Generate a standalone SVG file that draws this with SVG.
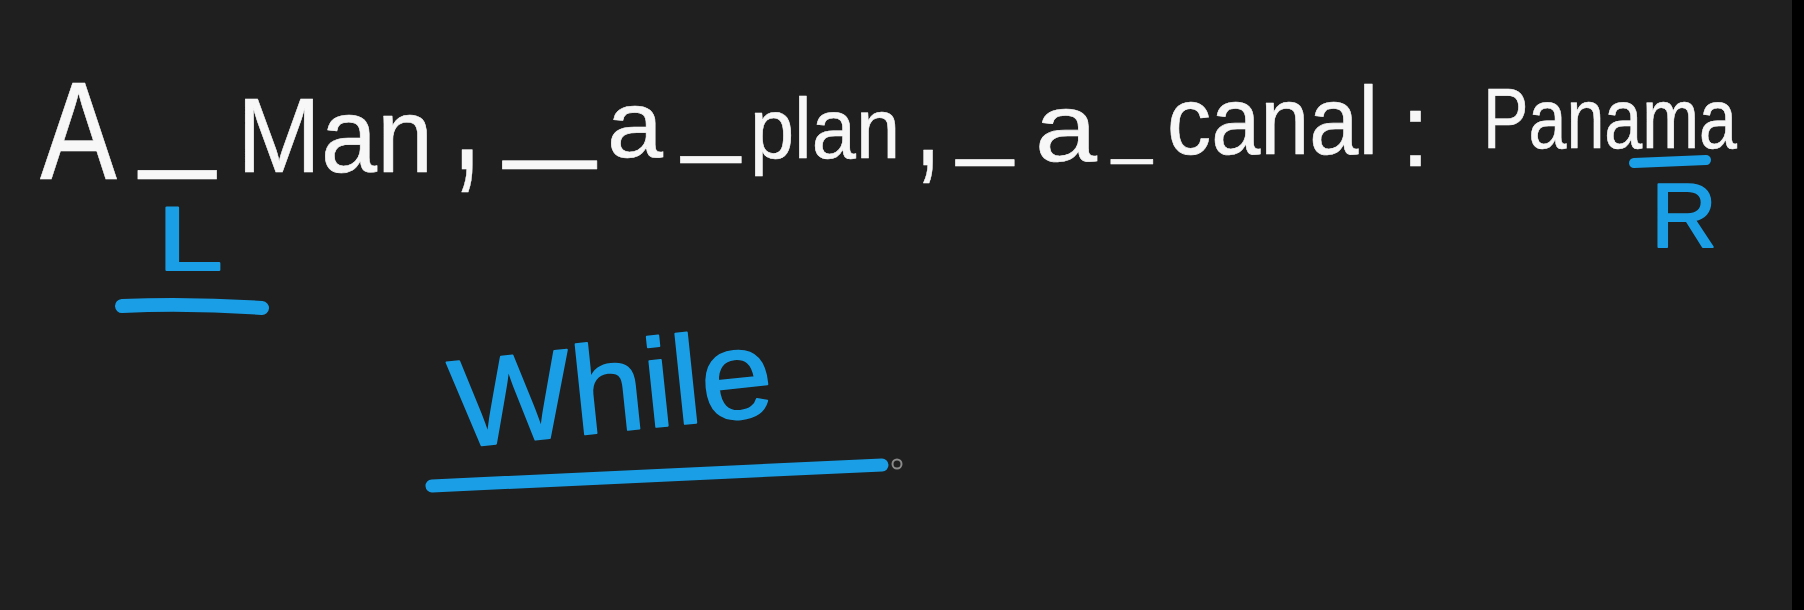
<svg xmlns="http://www.w3.org/2000/svg" width="1804" height="610" viewBox="0 0 1804 610">
<style>
.w{fill:#f7f7f7;stroke:#f7f7f7;stroke-width:0.6;stroke-linejoin:round;font-family:"Liberation Sans",Arial,sans-serif}
.b{fill:#1a9fe6;stroke:#1a9fe6;stroke-width:2;stroke-linejoin:round;font-family:"Liberation Sans",Arial,sans-serif}
.bl{fill:none;stroke:#1a9fe6;stroke-linecap:round;stroke-linejoin:round}
</style>
<rect x="0" y="0" width="1804" height="610" fill="#1f1f1f"/>
<rect x="1792" y="0" width="12" height="610" fill="#000"/>
<g id="sentence">
<text class="w" x="40" y="179" font-size="140" textLength="77" lengthAdjust="spacingAndGlyphs">A</text>
<text class="w" x="140" y="152" font-size="135" stroke-width="1.5" textLength="75" lengthAdjust="spacingAndGlyphs">_</text>
<text class="w" x="237" y="172" font-size="105" textLength="196" lengthAdjust="spacingAndGlyphs">Man</text>
<text class="w" x="452" y="169" font-size="180" textLength="30" lengthAdjust="spacingAndGlyphs">,</text>
<text class="w" x="505" y="143" font-size="130" stroke-width="1.5" textLength="90" lengthAdjust="spacingAndGlyphs">_</text>
<text class="w" x="607" y="157" font-size="95" textLength="56" lengthAdjust="spacingAndGlyphs">a</text>
<text class="w" x="682" y="142.3" font-size="104" stroke-width="3" textLength="58" lengthAdjust="spacingAndGlyphs">_</text>
<text class="w" x="750" y="158" font-size="86" stroke-width="1.2" textLength="150" lengthAdjust="spacingAndGlyphs">plan</text>
<text class="w" x="915" y="164.5" font-size="140" textLength="26" lengthAdjust="spacingAndGlyphs">,</text>
<text class="w" x="957" y="145.8" font-size="101" stroke-width="3" textLength="56" lengthAdjust="spacingAndGlyphs">_</text>
<text class="w" x="1035" y="161" font-size="96" textLength="62" lengthAdjust="spacingAndGlyphs">a</text>
<text class="w" x="1112" y="149.8" font-size="72" stroke-width="4.5" textLength="40" lengthAdjust="spacingAndGlyphs">_</text>
<text class="w" x="1167" y="154" font-size="97" textLength="211" lengthAdjust="spacingAndGlyphs">canal</text>
<text class="w" x="1401" y="166" font-size="104" stroke-width="4">:</text>
<text class="w" x="1483" y="148" font-size="85" stroke-width="1" textLength="254" lengthAdjust="spacingAndGlyphs">Panama</text>
</g>
<g id="pointer-L">
<text class="b" x="157" y="270" font-size="91" textLength="66" lengthAdjust="spacingAndGlyphs">L</text>
<path class="bl" stroke-width="14" d="M122 306 Q190 303 262 308"/>
</g>
<g id="pointer-R">
<path class="bl" stroke-width="10" d="M1634 163 L1706 160"/>
<text class="b" x="1651" y="247" font-size="90" textLength="66" lengthAdjust="spacingAndGlyphs">R</text>
</g>
<g id="while">
<text class="b" x="455" y="448" font-size="125" textLength="323" lengthAdjust="spacingAndGlyphs" transform="rotate(-6 455 448)">While</text>
<path class="bl" stroke-width="13" d="M432 486 L882 465"/>
<circle cx="897" cy="464" r="4.5" fill="none" stroke="#8a8a8a" stroke-width="2"/>
</g>
</svg>
